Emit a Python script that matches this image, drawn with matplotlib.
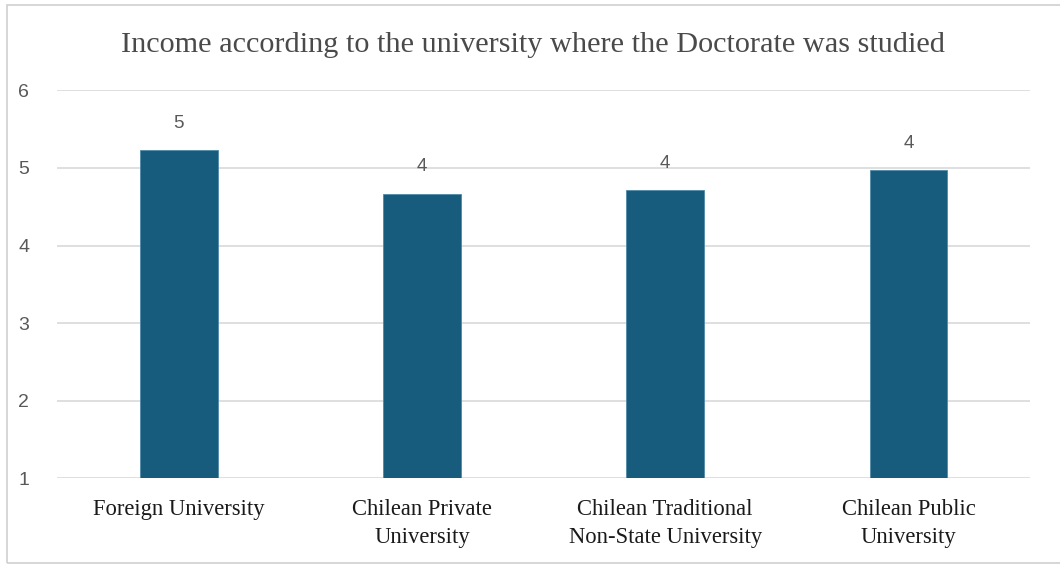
import matplotlib
matplotlib.use("Agg")
import matplotlib.pyplot as plt
from matplotlib.patches import Rectangle

categories = [
    "Foreign University",
    "Chilean Private\nUniversity",
    "Chilean Traditional\nNon-State University",
    "Chilean Public\nUniversity",
]
income = [5.23, 4.67, 4.71, 4.97]
value_labels = ["5", "4", "4", "4"]
y_ticks = [1, 2, 3, 4, 5, 6]

BAR_COLOR = "#175b7d"
TEXT_GRAY = "#595959"
GRID_GRAY = "#d9d9d9"
SERIF = ["Liberation Serif", "DejaVu Serif"]
SANS = ["Liberation Sans", "DejaVu Sans"]

fig = plt.figure(figsize=(10.6, 5.65), dpi=100)
ax = fig.add_axes([0.0538, 0.1535, 0.918, 0.6865])

x = list(range(len(categories)))
bars = ax.bar(x, income, width=0.32, bottom=0, color=BAR_COLOR,
              edgecolor="#4f8aa8", linewidth=0.6, zorder=3)

for bar, lab in zip(bars, value_labels):
    ax.annotate(lab, (bar.get_x() + bar.get_width() / 2, bar.get_height()),
                xytext=(0, 19.5), textcoords="offset points",
                ha="center", va="center", fontsize=13.5,
                color=TEXT_GRAY, family=SANS, zorder=4)

ax.set_ylim(1, 6)
ax.set_xlim(-0.5, len(categories) - 0.5)
ax.set_yticks(y_ticks)
ax.set_yticklabels([str(t) for t in y_ticks], family=SANS, fontsize=14,
                   color=TEXT_GRAY)
ax.set_xticks(x)
ax.set_xticklabels(categories, family=SERIF, fontsize=16.3, color="#1a1a1a",
                   linespacing=1.4)
ax.tick_params(axis="both", length=0)
ax.tick_params(axis="y", pad=20)
ax.tick_params(axis="x", pad=15)

ax.grid(axis="y", color=GRID_GRAY, linewidth=1.2, zorder=0)
for side in ax.spines.values():
    side.set_visible(False)

fig.text(0.503, 0.921, "Income according to the university where the Doctorate was studied",
         ha="center", va="center", family=SERIF, fontsize=21.8, color="#4a4a4a")

# light outline around the chart area
fig.patches.append(Rectangle((7 / 1060, 2 / 565), 1.2, 1 - 7 / 565,
                             transform=fig.transFigure, fill=False,
                             edgecolor="#d0d0d0", linewidth=1.2))

fig.savefig("out.png", dpi=100, facecolor="white")
